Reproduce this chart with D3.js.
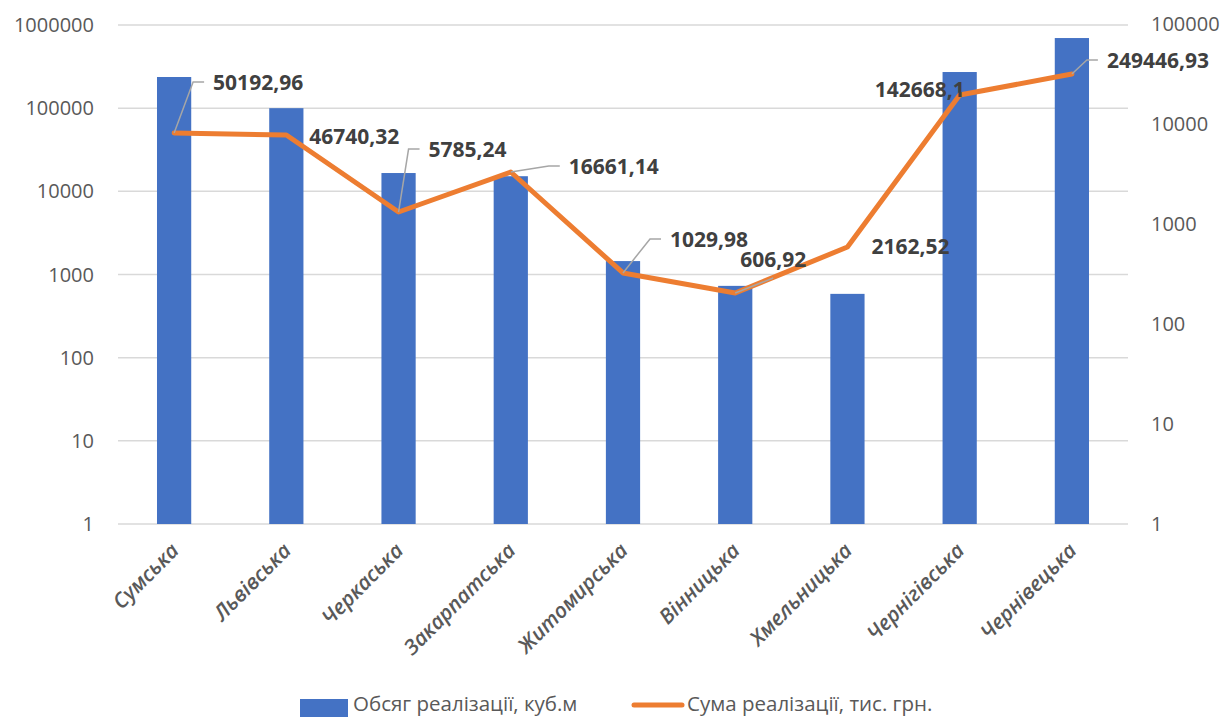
<!DOCTYPE html>
<html>
<head>
<meta charset="utf-8">
<script src="https://cdn.jsdelivr.net/npm/d3@7/dist/d3.min.js"></script>
<style>
  html, body { margin: 0; padding: 0; background: #fff; }
  svg { display: block; }
</style>
</head>
<body>
<svg id="chart" width="1225" height="717"></svg>
<script>
// ---------- DATA ----------
const categories = ["Сумська", "Львівська", "Черкаська", "Закарпатська", "Житомирська",
                    "Вінницька", "Хмельницька", "Чернігівська", "Чернівецька"];
// Обсяг реалізації, куб.м (left log axis)
const volumeValues = [237000, 100000, 16600, 15200, 1450, 730, 585, 272000, 697000];
// Сума реалізації, тис. грн. (right log axis) — as plotted
const sumValues = [8130, 7760, 1318, 3311, 324, 204, 589, 19500, 31600];
// Data label texts as printed on the chart
const sumLabels = ["50192,96", "46740,32", "5785,24", "16661,14", "1029,98",
                   "606,92", "2162,52", "142668,1", "249446,93"];
const leftTicks = [1, 10, 100, 1000, 10000, 100000, 1000000];
const rightTicks = [1, 10, 100, 1000, 10000, 100000];
const seriesNames = ["Обсяг реалізації, куб.м", "Сума реалізації, тис. грн."];

// ---------- LAYOUT (label placement, not data) ----------
// [dx, dy, leader type] relative to the line point
const labelPlacement = [
  [39, -50, "elbow"], [23, 2, "none"], [30, -62, "elbow"], [58, -5, "elbow"],
  [47, -33, "elbow"], [5, -33, "below"], [24, 0, "none"], [-85, -5, "none"], [35, -13, "elbow"]
];

const svg = d3.select("#chart");
const plot = { left: 118, right: 1128, top: 25, bottom: 524 };
const blue = "#4472C4", orange = "#ED7D31", grid = "#D9D9D9";
const FONT = "'Open Sans', 'Noto Sans', sans-serif";

const x = d3.scaleBand().domain(categories).range([plot.left, plot.right]).padding(0);
const yL = d3.scaleLog().domain([1, 1000000]).range([plot.bottom, plot.top]);
const yR = d3.scaleLog().domain([1, 100000]).range([524, 24]);
const cx = d => x(d) + x.bandwidth() / 2;
const barW = x.bandwidth() * 0.305;

// Gridlines
svg.append("g").selectAll("line").data(leftTicks).join("line")
  .attr("x1", plot.left).attr("x2", plot.right)
  .attr("y1", d => yL(d)).attr("y2", d => yL(d))
  .attr("stroke", grid).attr("stroke-width", 1.5);

// Left axis labels
svg.append("g").selectAll("text").data(leftTicks).join("text")
  .attr("x", 94).attr("y", d => yL(d)).attr("dy", "0.35em")
  .attr("text-anchor", "end").attr("font-family", FONT).attr("font-size", 20)
  .attr("fill", "#595959").text(d => d3.format("d")(d));

// Right axis labels
svg.append("g").selectAll("text").data(rightTicks).join("text")
  .attr("x", 1151).attr("y", d => yR(d)).attr("dy", "0.35em")
  .attr("text-anchor", "start").attr("font-family", FONT).attr("font-size", 20)
  .attr("fill", "#595959").text(d => d3.format("d")(d));

// Bars
svg.append("g").selectAll("rect").data(categories).join("rect")
  .attr("x", d => cx(d) - barW / 2)
  .attr("width", barW)
  .attr("y", (d, i) => yL(volumeValues[i]))
  .attr("height", (d, i) => plot.bottom - yL(volumeValues[i]))
  .attr("fill", blue);

// Line
const pts = categories.map((c, i) => [cx(c), yR(sumValues[i])]);
svg.append("path")
  .attr("d", d3.line()(pts))
  .attr("fill", "none").attr("stroke", orange).attr("stroke-width", 5)
  .attr("stroke-linejoin", "round").attr("stroke-linecap", "round");

// Leader lines + labels
const lg = svg.append("g");
pts.forEach((p, i) => {
  const [dx, dy, kind] = labelPlacement[i];
  const tx = p[0] + dx, ty = p[1] + dy;
  if (kind === "elbow") {
    lg.append("polyline")
      .attr("points", [[p[0], p[1]], [tx - 20, ty - 1], [tx - 9, ty - 1]].map(q => q.join(",")).join(" "))
      .attr("fill", "none").attr("stroke", "#A6A6A6").attr("stroke-width", 1.5);
  } else if (kind === "below") {
    lg.append("line")
      .attr("x1", p[0]).attr("y1", p[1]).attr("x2", tx + 33).attr("y2", ty + 18)
      .attr("stroke", "#A6A6A6").attr("stroke-width", 1.5);
  }
  lg.append("text")
    .attr("x", tx).attr("y", ty).attr("dy", "0.35em")
    .attr("font-family", FONT).attr("font-size", 21).attr("font-weight", 700)
    .attr("fill", "#404040").text(sumLabels[i]);
});

// Category labels
svg.append("g").selectAll("text").data(categories).join("text")
  .attr("transform", d => `translate(${cx(d) + 6},${552}) rotate(-45)`)
  .attr("text-anchor", "end")
  .attr("font-family", FONT).attr("font-size", 21).attr("font-style", "italic").attr("font-weight", 600)
  .attr("fill", "#595959").text(d => d);

// Legend
const leg = svg.append("g");
leg.append("rect").attr("x", 300).attr("y", 699).attr("width", 48).attr("height", 18).attr("fill", blue);
leg.append("text").attr("x", 353).attr("y", 711)
  .attr("font-family", FONT).attr("font-size", 20.5).attr("fill", "#595959").text(seriesNames[0]);
leg.append("line").attr("x1", 634).attr("x2", 682).attr("y1", 705).attr("y2", 705)
  .attr("stroke", orange).attr("stroke-width", 5).attr("stroke-linecap", "round");
leg.append("text").attr("x", 687).attr("y", 711)
  .attr("font-family", FONT).attr("font-size", 20.5).attr("fill", "#595959").text(seriesNames[1]);
</script>
</body>
</html>
